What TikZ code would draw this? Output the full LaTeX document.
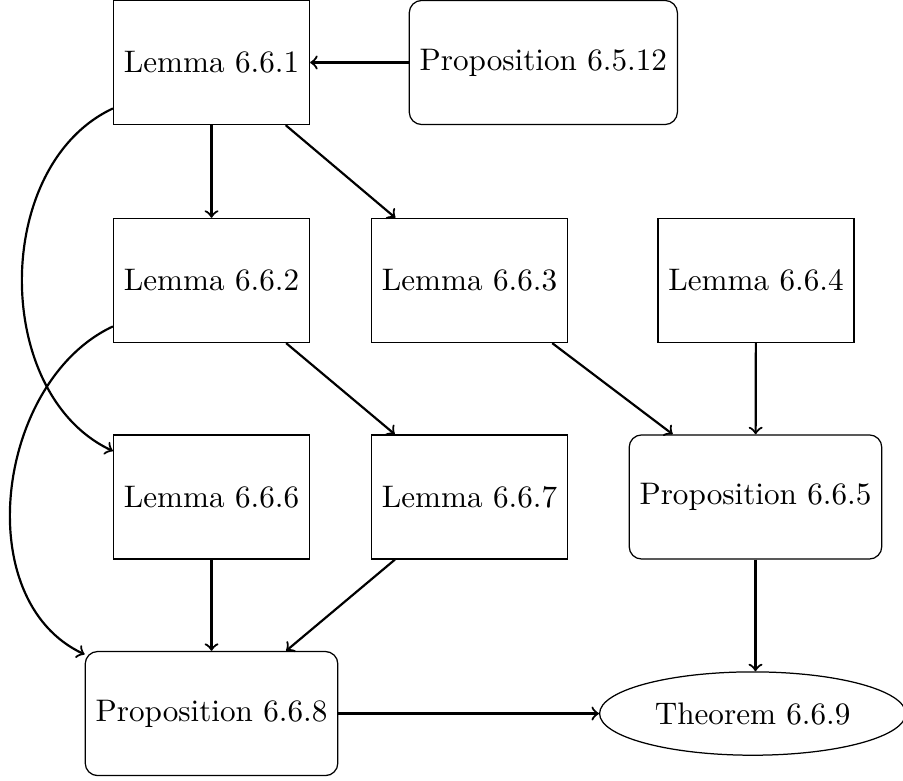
\documentclass[tikz,border=0pt]{standalone}
\usetikzlibrary{shapes.geometric}
\begin{document}
\begin{tikzpicture}[lemmabox/.style={draw, rectangle, minimum height=1.4cm}, propbox/.style={draw, rectangle, rounded corners, minimum height=1.4cm}, thmbox/.style={draw, ellipse, minimum width=3.4cm, minimum height=0.94cm}, dep/.style={->, line width=0.7pt}]
	\useasboundingbox (0, 0) rectangle (10.186, -8.799);
	
	% Hàng 1
	\node[lemmabox] (l661) at (2.386, -0.705) {Lemma 6.6.1};
	\node[propbox] (p6512) at (6.129, -0.705) {Proposition 6.5.12};
	
	% Hàng 2
	\node[lemmabox] (l662) at (2.386, -3.164) {Lemma 6.6.2};
	\node[lemmabox] (l663) at (5.296, -3.164) {Lemma 6.6.3};
	\node[lemmabox] (l664) at (8.528, -3.164) {Lemma 6.6.4};
	
	% Hàng 3
	\node[lemmabox] (l666) at (2.386, -5.606) {Lemma 6.6.6};
	\node[lemmabox] (l667) at (5.296, -5.606) {Lemma 6.6.7};
	\node[propbox] (p665) at (8.522, -5.606) {Proposition 6.6.5};
	
	% Hàng 4
	\node[propbox] (p668) at (2.386, -8.049) {Proposition 6.6.8};
	\node[thmbox] (t669) at (8.49, -8.049) {Theorem 6.6.9};
	
	% Mũi tên
	\draw[dep] (p6512) -- (l661);
	\draw[dep] (l661) -- (l662);
	\draw[dep] (l661) -- (l663);
	\draw[dep] (l661) to[out=205, in=155] (l666);
	\draw[dep] (l662) -- (l667);
	\draw[dep] (l662) to[out=205, in=155] (p668);
	\draw[dep] (l663) -- (p665);
	\draw[dep] (l664) -- (p665);
	\draw[dep] (l666) -- (p668);
	\draw[dep] (l667) -- (p668);
	\draw[dep] (p665.south) -- (p665.south |- t669.north);
	\draw[dep] (p668) -- (t669);
\end{tikzpicture}
\end{document}
